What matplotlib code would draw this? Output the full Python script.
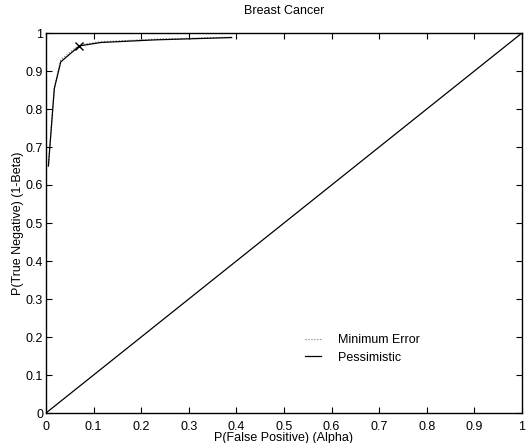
import matplotlib
matplotlib.use("Agg")
import matplotlib.pyplot as plt
import numpy as np

plt.rcParams['font.family'] = ['Liberation Sans', 'DejaVu Sans']
plt.rcParams['font.size'] = 9

# ROC points
alpha_pess = [0.005, 0.0175, 0.031, 0.070, 0.115, 0.23, 0.39]
beta_pess = [0.65, 0.854, 0.924, 0.966, 0.975, 0.982, 0.988]

alpha_minerr = [0.005, 0.0175, 0.031, 0.070, 0.115, 0.23, 0.39]
beta_minerr = [0.65, 0.856, 0.930, 0.969, 0.977, 0.984, 0.989]

chosen_alpha = [0.070]
chosen_beta = [0.966]

diag = [0, 1]

fig = plt.figure(figsize=(5.31, 4.43), dpi=100)
ax = fig.add_axes([46 / 531, 30 / 443, 476 / 531, 380 / 443])

ax.plot(alpha_minerr, beta_minerr, ':', color='0.45', lw=0.8, label='Minimum Error')
ax.plot(alpha_pess, beta_pess, '-', color='k', lw=0.9, label='Pessimistic')
ax.plot(chosen_alpha, chosen_beta, 'x', color='k', ms=5.5, mew=1.0)
ax.plot(diag, diag, '-', color='k', lw=0.9)

ax.set_xlim(0, 1)
ax.set_ylim(0, 1)
ax.set_xticks(np.arange(0, 1.01, 0.1))
ax.set_yticks(np.arange(0, 1.01, 0.1))
ax.set_xticklabels(['0', '0.1', '0.2', '0.3', '0.4', '0.5', '0.6', '0.7', '0.8', '0.9', '1'])
ax.set_yticklabels(['0', '0.1', '0.2', '0.3', '0.4', '0.5', '0.6', '0.7', '0.8', '0.9', '1'])
ax.tick_params(direction='in', top=True, right=True, length=4, width=0.8)
ax.tick_params(axis='x', pad=6)
ax.tick_params(axis='y', pad=2)
for s in ax.spines.values():
    s.set_linewidth(1.0)

ax.set_title('Breast Cancer', fontsize=9, pad=14)
ax.set_xlabel('P(False Positive) (Alpha)', labelpad=-1)
ax.set_ylabel('P(True Negative) (1-Beta)', labelpad=1)

ax.legend(loc='lower left', bbox_to_anchor=(0.521, 0.1), frameon=False,
          handlelength=1.3, handletextpad=1.3, fontsize=9, labelspacing=0.45)

fig.savefig('out.png', dpi=100)
